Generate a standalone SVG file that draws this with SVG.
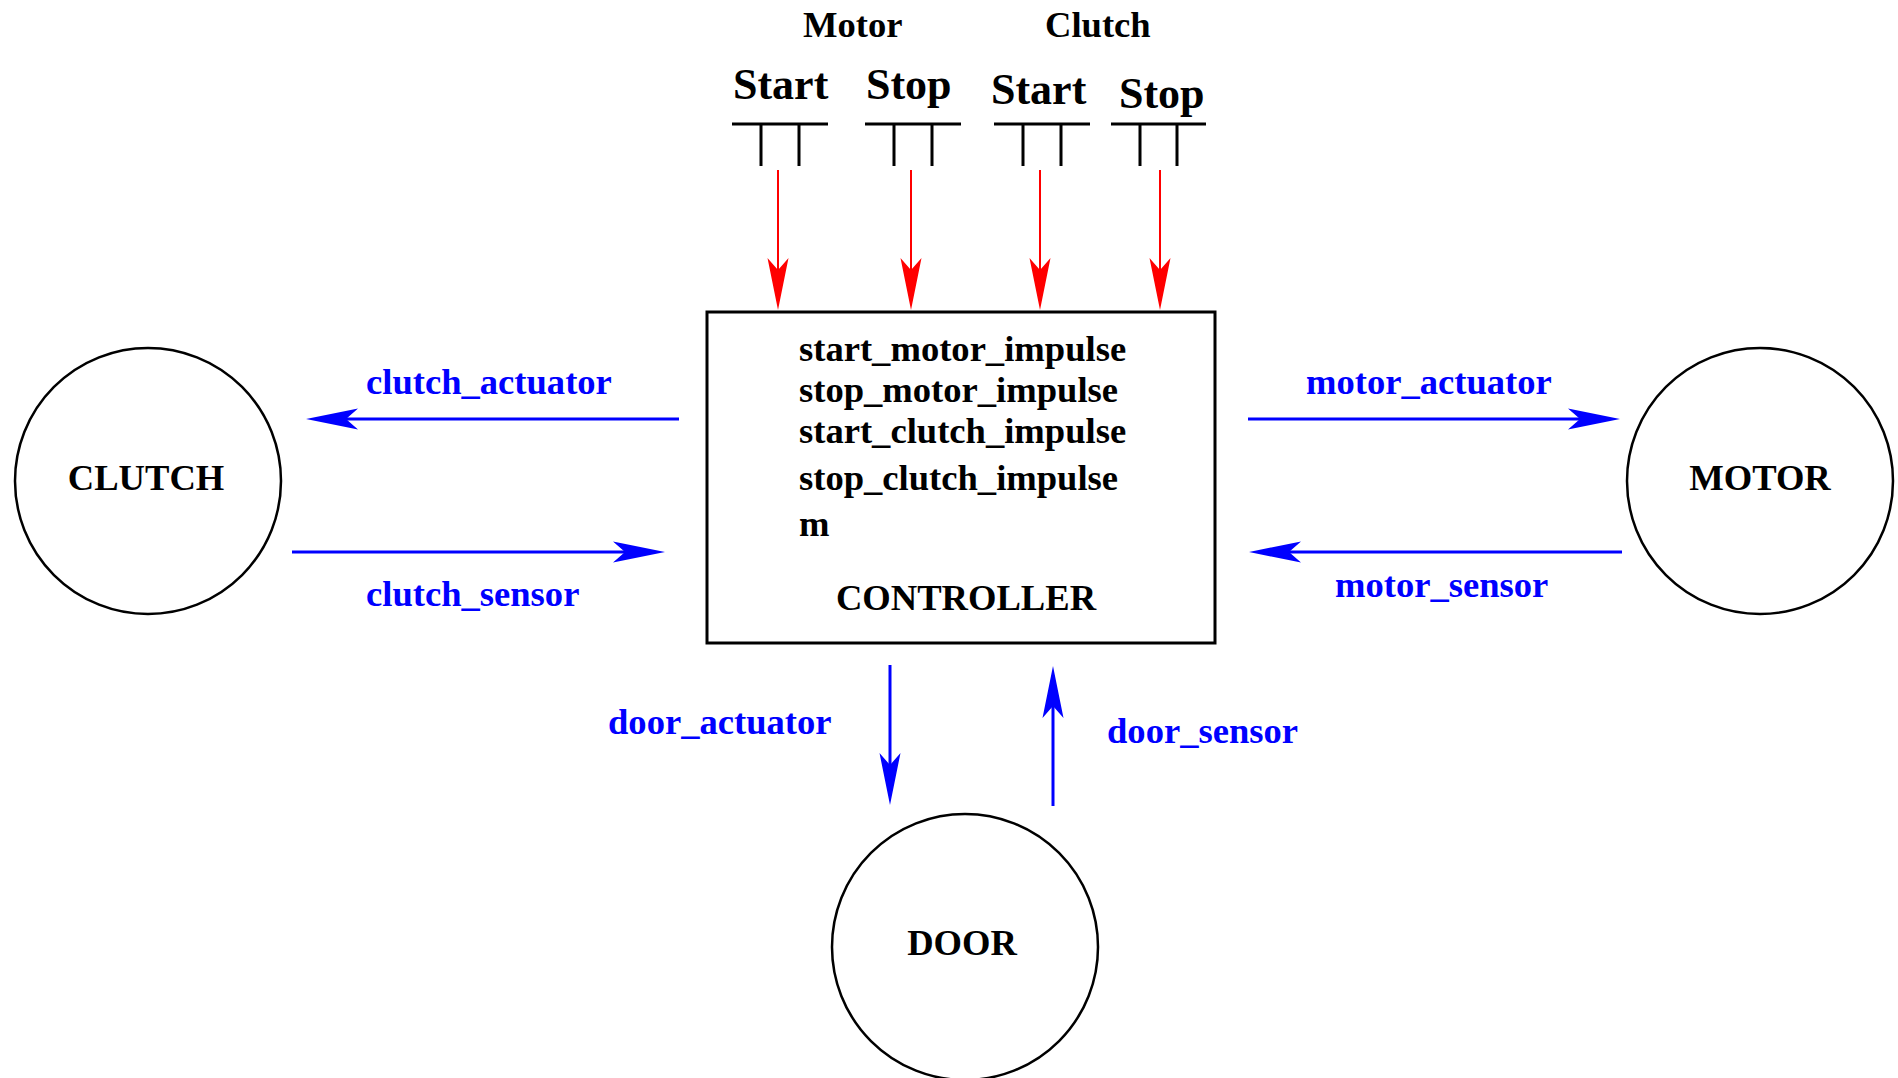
<svg xmlns="http://www.w3.org/2000/svg" width="1898" height="1078" viewBox="0 0 1898 1078">
<style>
text{font-family:"Liberation Serif","Times New Roman",serif;font-weight:bold}
.t36{font-size:36.6px;fill:#000}
.t44{font-size:44px;fill:#000}
.lbl{font-size:36.6px;fill:#0000ff}
.node{fill:none;stroke:#000;stroke-width:2.5}
.bar{stroke:#000;stroke-width:3;fill:none}
.blue{stroke:#0000ff;stroke-width:3;fill:none;marker-end:url(#ab)}
.red{stroke:#ff0000;stroke-width:2;fill:none;marker-end:url(#ar)}
</style>
<defs>
<marker id="ab" markerUnits="userSpaceOnUse" viewBox="-13 -12 55 24" refX="0" refY="0" markerWidth="55" markerHeight="24" orient="auto">
<path d="M40,0 L-12,-10.5 L0,0 L-12,10.5 Z" fill="#0000ff"/>
</marker>
<marker id="ar" markerUnits="userSpaceOnUse" viewBox="-13 -12 55 24" refX="0" refY="0" markerWidth="55" markerHeight="24" orient="auto">
<path d="M40,0 L-12,-10.5 L0,0 L-12,10.5 Z" fill="#ff0000"/>
</marker>
</defs>
<rect width="1898" height="1078" fill="#fff"/>

<g id="buttons">
<text class="t36" x="803" y="37">Motor</text>
<text class="t36" x="1045" y="37">Clutch</text>
<g id="motor-start">
<text class="t44" x="733" y="99">Start</text>
<path class="bar" d="M732,124 H828 M761,124 V166 M799,124 V166"/>
</g>
<g id="motor-stop">
<text class="t44" x="866" y="99">Stop</text>
<path class="bar" d="M865,124 H961 M894,124 V166 M932,124 V166"/>
</g>
<g id="clutch-start">
<text class="t44" x="991" y="104">Start</text>
<path class="bar" d="M994,124 H1090 M1023,124 V166 M1061,124 V166"/>
</g>
<g id="clutch-stop">
<text class="t44" x="1119" y="108">Stop</text>
<path class="bar" d="M1111,124 H1206 M1140,124 V166 M1177,124 V166"/>
</g>
</g>

<g id="controller">
<rect x="707" y="312" width="508" height="331" fill="none" stroke="#000" stroke-width="3"/>
<text class="t36" x="799" y="361">start_motor_impulse</text>
<text class="t36" x="799" y="402">stop_motor_impulse</text>
<text class="t36" x="799" y="443">start_clutch_impulse</text>
<text class="t36" x="799" y="490">stop_clutch_impulse</text>
<text class="t36" x="799" y="536">m</text>
<text class="t36" x="966" y="610" text-anchor="middle">CONTROLLER</text>
</g>

<g id="clutch">
<circle class="node" cx="148" cy="481" r="133"/>
<text class="t36" x="146" y="490" text-anchor="middle">CLUTCH</text>
</g>

<g id="motor">
<circle class="node" cx="1760" cy="481" r="133"/>
<text class="t36" x="1760" y="490" text-anchor="middle">MOTOR</text>
</g>

<g id="door">
<circle class="node" cx="965" cy="947" r="133"/>
<text class="t36" x="962" y="955" text-anchor="middle">DOOR</text>
</g>

<g id="connectors">
<line class="red" x1="778" y1="170" x2="778" y2="270"/>
<line class="red" x1="911" y1="170" x2="911" y2="270"/>
<line class="red" x1="1040" y1="170" x2="1040" y2="270"/>
<line class="red" x1="1160" y1="170" x2="1160" y2="270"/>
<line class="blue" x1="679" y1="419" x2="346" y2="419"/>
<line class="blue" x1="292" y1="552" x2="625" y2="552"/>
<line class="blue" x1="1248" y1="419" x2="1580" y2="419"/>
<line class="blue" x1="1622" y1="552" x2="1289" y2="552"/>
<line class="blue" x1="890" y1="665" x2="890" y2="765"/>
<line class="blue" x1="1053" y1="806" x2="1053" y2="706"/>
<text class="lbl" x="366" y="394">clutch_actuator</text>
<text class="lbl" x="366" y="606">clutch_sensor</text>
<text class="lbl" x="1306" y="394">motor_actuator</text>
<text class="lbl" x="1335" y="597">motor_sensor</text>
<text class="lbl" x="608" y="734">door_actuator</text>
<text class="lbl" x="1107" y="743">door_sensor</text>
</g>
</svg>
